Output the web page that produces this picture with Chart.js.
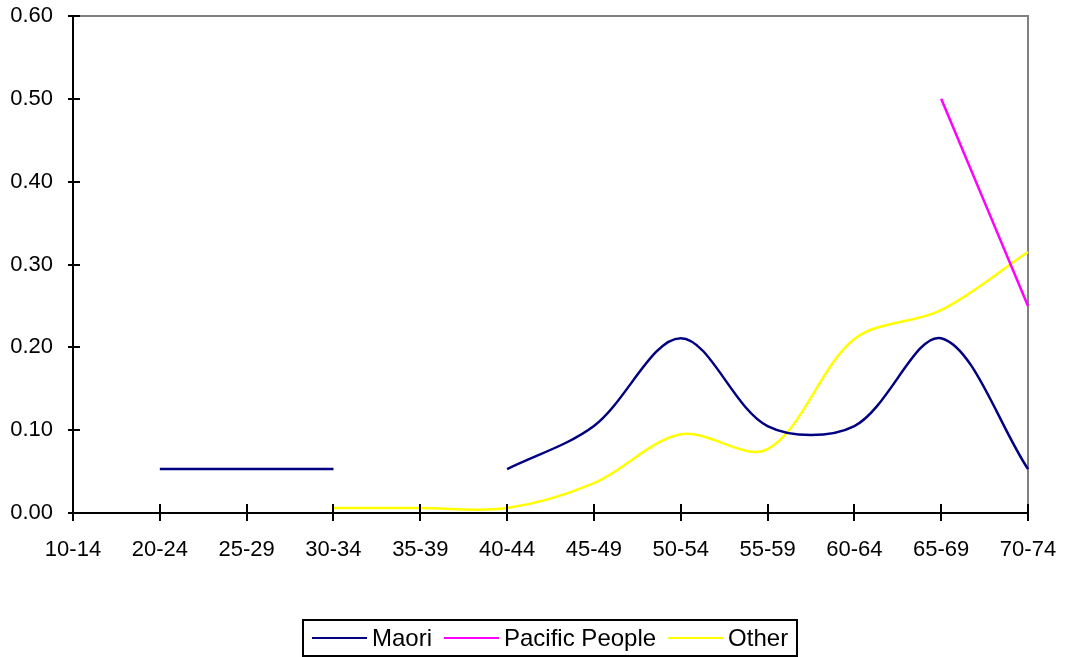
<!DOCTYPE html>
<html>
<head>
<meta charset="utf-8">
<title>Age group rates</title>
<script src="https://cdn.jsdelivr.net/npm/chart.js@4.4.1/dist/chart.umd.min.js"></script>
<style>
  html, body { margin: 0; padding: 0; background: #ffffff; }
  #wrap { width: 1066px; height: 657px; }
</style>
</head>
<body>
<div id="wrap"><canvas id="c" width="1066" height="657"></canvas></div>
<script>
// Age groups along the x axis
const categories = ['10-14', '20-24', '25-29', '30-34', '35-39', '40-44', '45-49', '50-54', '55-59', '60-64', '65-69', '70-74'];

// Series values per age group (null = no value)
const maori   = [null, 0.053, 0.053, 0.053, null, 0.053, 0.105, 0.211, 0.105, 0.105, 0.211, 0.053];
const pacific = [null, null, null, null, null, null, null, null, null, null, 0.50, 0.25];
const other   = [null, null, null, 0.006, 0.006, 0.006, 0.036, 0.095, 0.077, 0.21, 0.245, 0.315];

// Y axis range
const yMin = 0;
const yMax = 0.6;
const yStep = 0.1;

const FONT = '"Liberation Sans", Arial, sans-serif';

// Plot frame: grey top/right border, black axes with cross tick marks
const framePlugin = {
  id: 'frame',
  beforeDatasetsDraw(chart) {
    const { ctx, chartArea: a } = chart;
    ctx.save();
    ctx.strokeStyle = '#808080';
    ctx.lineWidth = 2;
    ctx.beginPath();
    ctx.moveTo(a.left, a.top);
    ctx.lineTo(a.right, a.top);
    ctx.lineTo(a.right, a.bottom);
    ctx.stroke();
    ctx.restore();
  },
  afterDatasetsDraw(chart) {
    const { ctx, chartArea: a, scales } = chart;
    ctx.save();
    ctx.strokeStyle = '#000000';
    ctx.lineWidth = 2;
    ctx.beginPath();
    ctx.moveTo(a.left, a.top - 1);
    ctx.lineTo(a.left, a.bottom);
    ctx.lineTo(a.right, a.bottom);
    ctx.stroke();
    ctx.beginPath();
    scales.y.ticks.forEach((t, i) => {
      const y = Math.round(scales.y.getPixelForTick(i));
      ctx.moveTo(a.left - 5, y);
      ctx.lineTo(a.left + 7, y);
    });
    scales.x.ticks.forEach((t, i) => {
      const x = Math.round(scales.x.getPixelForTick(i));
      ctx.moveTo(x, a.bottom - 9);
      ctx.lineTo(x, a.bottom + 8);
    });
    ctx.stroke();
    ctx.restore();
  }
};

// Boxed legend below the axis
const boxLegendPlugin = {
  id: 'boxLegend',
  afterDraw(chart) {
    const { ctx, chartArea: a } = chart;
    const sets = chart.data.datasets;
    const pad = 9, lineLen = 55, gapText = 5, gapItem = 12;
    ctx.save();
    ctx.font = '24px ' + FONT;
    const widths = sets.map(d => ctx.measureText(d.label).width);
    let total = pad * 2;
    widths.forEach((w, i) => { total += lineLen + gapText + w + (i ? gapItem : 0); });
    const boxH = 36;
    const top = chart.height - 37;
    const left = Math.round((a.left + a.right) / 2 - total / 2);
    ctx.strokeStyle = '#000000';
    ctx.lineWidth = 2;
    ctx.strokeRect(left, top, Math.round(total), boxH);
    const cy = top + boxH / 2;
    let x = left + pad;
    ctx.textBaseline = 'middle';
    ctx.textAlign = 'left';
    sets.forEach((d, i) => {
      if (i) x += gapItem;
      ctx.strokeStyle = d.borderColor;
      ctx.lineWidth = 2;
      ctx.beginPath();
      ctx.moveTo(x, cy);
      ctx.lineTo(x + lineLen, cy);
      ctx.stroke();
      x += lineLen + gapText;
      ctx.fillStyle = '#000000';
      ctx.fillText(d.label, x, cy + 1);
      x += widths[i];
    });
    ctx.restore();
  }
};

new Chart(document.getElementById('c'), {
  type: 'line',
  data: {
    labels: categories,
    datasets: [
      { label: 'Maori', data: maori, borderColor: '#000080' },
      { label: 'Pacific People', data: pacific, borderColor: '#FF00FF' },
      { label: 'Other', data: other, borderColor: '#FFFF00' }
    ]
  },
  options: {
    responsive: false,
    animation: false,
    devicePixelRatio: 1,
    layout: { padding: { left: 0, top: 16, right: 38, bottom: 84 } },
    elements: {
      line: { borderWidth: 2.5, tension: 0.33, fill: false },
      point: { radius: 0, hoverRadius: 0 }
    },
    plugins: {
      legend: { display: false },
      tooltip: { enabled: false }
    },
    scales: {
      x: {
        type: 'category',
        offset: false,
        grid: { display: false, drawTicks: false },
        border: { display: false },
        ticks: {
          color: '#000000',
          font: { family: FONT, size: 22 },
          padding: 24,
          maxRotation: 0,
          autoSkip: false
        },
        afterFit(s) {
          s.height = 60;
          s.paddingLeft = 0;
          s.paddingRight = 0;
        }
      },
      y: {
        min: yMin,
        max: yMax,
        grid: { display: false, drawTicks: false },
        border: { display: false },
        ticks: {
          stepSize: yStep,
          color: '#000000',
          font: { family: FONT, size: 22 },
          padding: 20,
          callback: v => Number(v).toFixed(2)
        },
        afterFit(s) {
          s.width = 73;
          s.paddingTop = 0;
          s.paddingBottom = 0;
        }
      }
    }
  },
  plugins: [framePlugin, boxLegendPlugin]
});
</script>
</body>
</html>
